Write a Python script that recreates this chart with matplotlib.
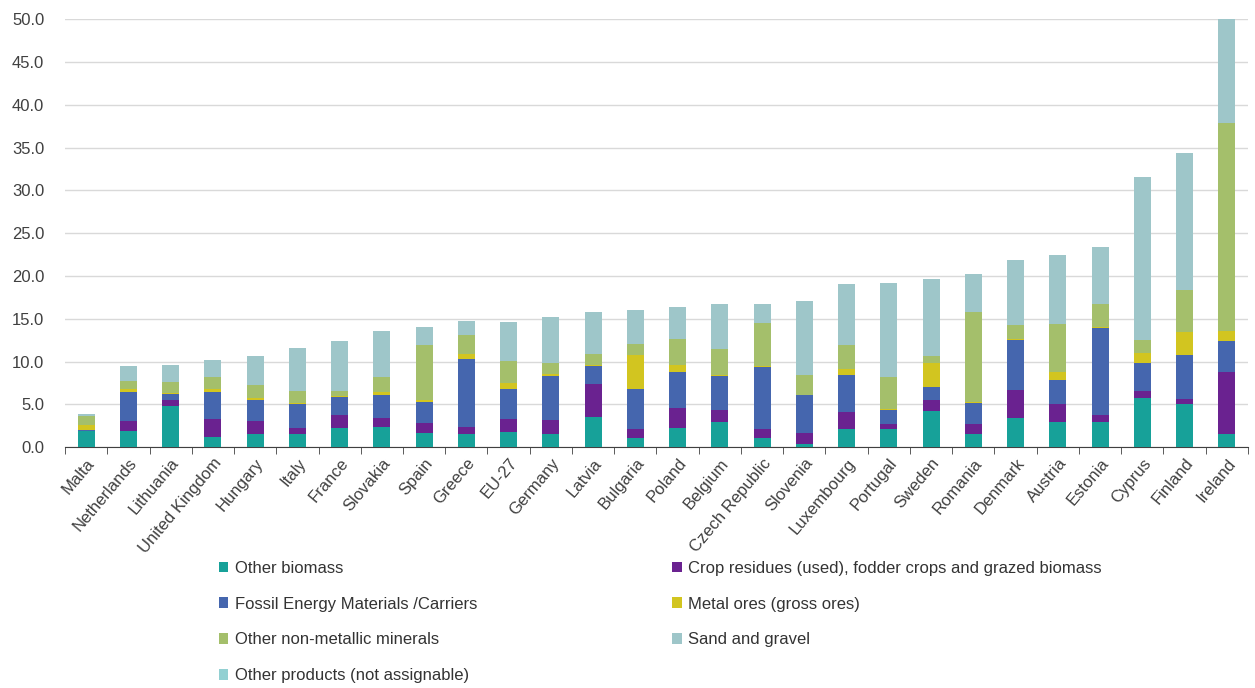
import numpy as np
import matplotlib
matplotlib.use("Agg")
import matplotlib.pyplot as plt
matplotlib.rcParams['font.family'] = ['Liberation Sans', 'DejaVu Sans']

countries = ["Malta", "Netherlands", "Lithuania", "United Kingdom", "Hungary", "Italy",
             "France", "Slovakia", "Spain", "Greece", "EU-27", "Germany", "Latvia",
             "Bulgaria", "Poland", "Belgium", "Czech Republic", "Slovenia", "Luxembourg",
             "Portugal", "Sweden", "Romania", "Denmark", "Austria", "Estonia", "Cyprus",
             "Finland", "Ireland"]

other_biomass = [1.9, 1.95, 4.87, 1.25, 1.55, 1.6, 2.3, 2.37, 1.67, 1.6, 1.8, 1.6, 3.54,
                 1.09, 2.25, 2.96, 1.09, 0.43, 2.1, 2.1, 4.24, 1.6, 3.43, 2.96, 2.96, 5.76,
                 4.99, 1.6]
crop_residues = [0.05, 1.15, 0.7, 2.0, 1.5, 0.7, 1.52, 1.05, 1.1, 0.77, 1.55, 1.63, 3.9,
                 1.01, 2.38, 1.44, 1.01, 1.24, 2.02, 0.59, 1.25, 1.09, 3.23, 2.06, 0.78, 0.82,
                 0.7, 7.13]
fossil = [0.05, 3.35, 0.7, 3.25, 2.5, 2.7, 2.06, 2.73, 2.49, 7.93, 3.5, 5.07, 2.02,
          4.75, 4.17, 3.9, 7.3, 4.4, 4.29, 1.71, 1.56, 2.49, 5.92, 2.88, 10.2, 3.31,
          5.06, 3.65]
metal_ores = [0.65, 0.3, 0.1, 0.3, 0.15, 0.15, 0.1, 0.25, 0.2, 0.56, 0.6, 0.3, 0.15,
              3.9, 0.78, 0.1, 0.1, 0.05, 0.78, 0.1, 2.8, 0.1, 0.1, 0.9, 0.05, 1.13,
              2.72, 1.17]
non_metallic = [0.95, 0.95, 1.25, 1.35, 1.55, 1.45, 0.6, 1.8, 6.45, 2.3, 2.6, 1.18, 1.33,
                1.35, 3.04, 3.05, 4.97, 2.37, 2.73, 3.71, 0.82, 10.52, 1.57, 5.65, 2.71, 1.48,
                4.95, 24.35]
sand_gravel = [0.25, 1.8, 2.0, 2.05, 3.45, 5.0, 5.8, 5.35, 2.15, 1.55, 4.6, 5.44, 4.86,
               3.98, 3.78, 5.25, 2.22, 8.6, 7.2, 11.03, 9.03, 4.49, 7.6, 7.98, 6.7, 19.08,
               16.01, 12.1]
other_products = [0.0] * 28

series = [
    ("Other biomass", other_biomass, "#17a199"),
    ("Crop residues (used), fodder crops and grazed biomass", crop_residues, "#6a2290"),
    ("Fossil Energy Materials /Carriers", fossil, "#4566ae"),
    ("Metal ores (gross ores)", metal_ores, "#d2c520"),
    ("Other non-metallic minerals", non_metallic, "#a4bf6b"),
    ("Sand and gravel", sand_gravel, "#9ec6c9"),
    ("Other products (not assignable)", other_products, "#92d0d2"),
]

fig = plt.figure(figsize=(12.55, 6.88), dpi=100)
ax = fig.add_axes([0.0518, 0.350, 0.9426, 0.622])

x = np.arange(len(countries))
bottom = np.zeros(len(countries))
handles = []
for name, vals, col in series:
    b = ax.bar(x, vals, width=0.4, bottom=bottom, color=col, label=name, zorder=3)
    handles.append(b)
    bottom += np.array(vals)

ax.set_xlim(-0.5, len(countries) - 0.5)
ax.set_ylim(0, 50)
ax.set_yticks(np.arange(0, 51, 5))
ax.set_yticklabels([f"{v:.1f}" for v in np.arange(0, 51, 5)], fontsize=12, color="#404040")
ax.yaxis.grid(True, color="#d9d9d9", linewidth=1.0, zorder=0)
ax.tick_params(axis='y', length=0, pad=15)

ax.set_xticks(x)
ax.set_xticklabels(countries, rotation=50, ha='right', rotation_mode='anchor',
                   fontsize=12, color="#404040")
ax.set_xticks(np.arange(-0.5, len(countries), 1), minor=True)
ax.tick_params(axis='x', which='major', length=0, pad=6)
ax.tick_params(axis='x', which='minor', length=5, direction='out', color="#404040")

for s in ["top", "right", "left"]:
    ax.spines[s].set_visible(False)
ax.spines["bottom"].set_color("#404040")

# legend reads across rows, matplotlib fills columns first
order = [0, 2, 4, 6, 1, 3, 5]
fig.legend([handles[i] for i in order], [series[i][0] for i in order],
           loc='upper left', bbox_to_anchor=(0.168, 0.197), ncol=2, frameon=False,
           fontsize=12, handlelength=0.55, handleheight=0.6, handletextpad=0.4,
           labelspacing=1.25, columnspacing=11.7, borderpad=0, labelcolor="#333333")

plt.savefig("out.png", dpi=100)
